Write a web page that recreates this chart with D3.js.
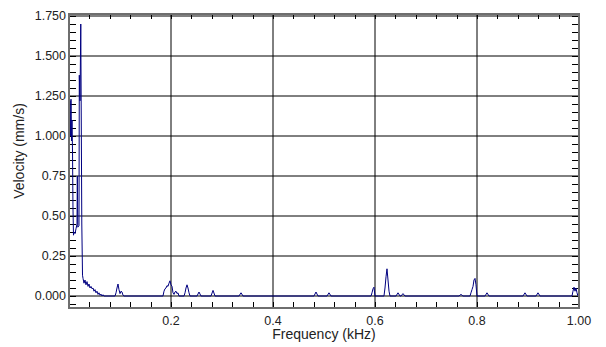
<!DOCTYPE html>
<html>
<head>
<meta charset="utf-8">
<script src="https://cdn.jsdelivr.net/npm/d3@7"></script>
<style>
  html, body { margin: 0; padding: 0; background: #ffffff; }
  svg { display: block; }
  text { font-family: "Liberation Sans", Arial, sans-serif; fill: #222; }
</style>
</head>
<body>
<svg id="chart" width="606" height="347"></svg>
<script>
// Vibration velocity spectrum (kHz vs mm/s)
const freqKHz = [
  0.0010, 0.0020, 0.0029, 0.0039, 0.0049, 0.0059, 0.0069, 0.0078, 0.0088, 0.0098,
  0.0118, 0.0137, 0.0157, 0.0163, 0.0173, 0.0196, 0.0202, 0.0216, 0.0231, 0.0251,
  0.0265, 0.0275, 0.0294, 0.0314, 0.0333, 0.0353, 0.0373, 0.0392, 0.0412, 0.0431,
  0.0451, 0.0471, 0.0490, 0.0510, 0.0529, 0.0549, 0.0569, 0.0588, 0.0608, 0.0627,
  0.0647, 0.0667, 0.0686,
  0.0902, 0.0922, 0.0941, 0.0961, 0.0980, 0.1000, 0.1020, 0.1039, 0.1059, 0.1078,
  0.1843, 0.1863, 0.1882, 0.1902, 0.1922, 0.1941, 0.1961, 0.1980, 0.2000, 0.2020,
  0.2039, 0.2059, 0.2078, 0.2098, 0.2118, 0.2137, 0.2157,
  0.2255, 0.2275, 0.2294, 0.2314, 0.2333, 0.2353, 0.2373,
  0.2510, 0.2549, 0.2588,
  0.2784, 0.2824, 0.2863,
  0.3333, 0.3373, 0.3412,
  0.4804, 0.4843, 0.4882,
  0.5059, 0.5098, 0.5137,
  0.5922, 0.5941, 0.5961, 0.5980, 0.6000,
  0.6176, 0.6196, 0.6216, 0.6235, 0.6255, 0.6275, 0.6294,
  0.6412, 0.6451, 0.6490, 0.6510, 0.6549, 0.6588,
  0.7647, 0.7686, 0.7725,
  0.7863, 0.7882, 0.7902, 0.7922, 0.7941, 0.7961, 0.7980, 0.8000,
  0.8157, 0.8196, 0.8235,
  0.8902, 0.8941, 0.8980,
  0.9157, 0.9196, 0.9235,
  0.9863, 0.9882, 0.9902, 0.9922, 0.9941, 0.9961, 0.9980, 1.0000
];

const velocity = [
  1.15, 1.22, 1.00, 1.23, 0.97, 1.10, 0.90, 0.55, 0.38, 0.40,
  0.39, 0.42, 0.45, 0.75, 0.43, 0.44, 1.38, 1.22, 1.70, 0.45,
  0.13, 0.11, 0.08, 0.10, 0.07, 0.09, 0.06, 0.075, 0.05, 0.06,
  0.045, 0.05, 0.03, 0.04, 0.02, 0.03, 0.01, 0.02, 0.005, 0.012,
  0.0, 0.008, 0.0,
  0.0, 0.02, 0.05, 0.075, 0.04, 0.015, 0.03, 0.025, 0.005, 0.0,
  0.0, 0.03, 0.045, 0.05, 0.065, 0.06, 0.08, 0.095, 0.07, 0.06,
  0.02, 0.01, 0.025, 0.03, 0.015, 0.02, 0.0,
  0.0, 0.02, 0.05, 0.07, 0.05, 0.02, 0.0,
  0.0, 0.025, 0.0,
  0.0, 0.035, 0.0,
  0.0, 0.02, 0.0,
  0.0, 0.025, 0.0,
  0.0, 0.02, 0.0,
  0.0, 0.02, 0.045, 0.055, 0.0,
  0.0, 0.05, 0.12, 0.17, 0.10, 0.03, 0.0,
  0.0, 0.02, 0.0, 0.0, 0.015, 0.0,
  0.0, 0.01, 0.0,
  0.0, 0.02, 0.04, 0.06, 0.10, 0.11, 0.07, 0.0,
  0.0, 0.02, 0.0,
  0.0, 0.02, 0.0,
  0.0, 0.02, 0.0,
  0.0, 0.03, 0.055, 0.03, 0.05, 0.02, 0.0, 0.0
];

const yTickValues = [0, 0.25, 0.5, 0.75, 1.0, 1.25, 1.5, 1.75];
const yTickLabels = ["0.000", "0.25", "0.50", "0.75", "1.000", "1.250", "1.500", "1.750"];
const xTickValues = [0.2, 0.4, 0.6, 0.8, 1.0];
const xTickLabels = ["0.2", "0.4", "0.6", "0.8", "1.00"];

const svg = d3.select("#chart");

const plotLeft = 69, plotRight = 579, plotTop = 14, plotBottom = 308;

const x = d3.scaleLinear().domain([0, 1]).range([plotLeft, plotRight]);
const y = d3.scaleLinear().domain([-0.075, 1.7625]).range([plotBottom, plotTop]);

// grid lines
const grid = svg.append("g");
grid.selectAll("line.h")
  .data(yTickValues)
  .join("line")
  .attr("class", "h")
  .attr("x1", plotLeft).attr("x2", plotRight)
  .attr("y1", d => y(d)).attr("y2", d => y(d))
  .attr("stroke", "#000").attr("stroke-width", 1);

grid.selectAll("line.v")
  .data(xTickValues.filter(d => d < 1))
  .join("line")
  .attr("class", "v")
  .attr("x1", d => x(d)).attr("x2", d => x(d))
  .attr("y1", plotTop).attr("y2", plotBottom)
  .attr("stroke", "#000").attr("stroke-width", 1);

// minor ticks on all four sides, pointing inward
const yMinor = d3.range(-0.05, 1.7501, 0.05);
const xMinor = d3.range(0.04, 0.9801, 0.04);
const ticks = svg.append("g").attr("stroke", "#000").attr("stroke-width", 1);
ticks.selectAll("line.yl").data(yMinor).join("line").attr("class", "yl")
  .attr("x1", plotLeft).attr("x2", plotLeft + 7)
  .attr("y1", d => Math.round(y(d)) + 0.5).attr("y2", d => Math.round(y(d)) + 0.5);
ticks.selectAll("line.yr").data(yMinor).join("line").attr("class", "yr")
  .attr("x1", plotRight - 7).attr("x2", plotRight)
  .attr("y1", d => Math.round(y(d)) + 0.5).attr("y2", d => Math.round(y(d)) + 0.5);
ticks.selectAll("line.xb").data(xMinor).join("line").attr("class", "xb")
  .attr("x1", d => Math.round(x(d)) + 0.5).attr("x2", d => Math.round(x(d)) + 0.5)
  .attr("y1", plotBottom - 6).attr("y2", plotBottom);
ticks.selectAll("line.xt").data(xMinor).join("line").attr("class", "xt")
  .attr("x1", d => Math.round(x(d)) + 0.5).attr("x2", d => Math.round(x(d)) + 0.5)
  .attr("y1", plotTop).attr("y2", plotTop + 5);

// spectrum trace
const points = freqKHz.map((f, i) => [f, velocity[i]]);
svg.append("path")
  .datum(points)
  .attr("fill", "none")
  .attr("stroke", "#000080")
  .attr("stroke-width", 1)
  .attr("d", d3.line().x(d => x(d[0])).y(d => y(d[1])));

// plot frame
svg.append("rect")
  .attr("x", plotLeft).attr("y", plotTop)
  .attr("width", plotRight - plotLeft).attr("height", plotBottom - plotTop)
  .attr("fill", "none")
  .attr("stroke", "#6e6e6e")
  .attr("stroke-width", 2);

// y tick labels
svg.append("g").selectAll("text")
  .data(yTickValues)
  .join("text")
  .attr("x", 66)
  .attr("y", d => y(d))
  .attr("dy", "0.35em")
  .attr("text-anchor", "end")
  .attr("font-size", 12.5)
  .text((d, i) => yTickLabels[i]);

// x tick labels
svg.append("g").selectAll("text")
  .data(xTickValues)
  .join("text")
  .attr("x", d => x(d))
  .attr("y", 325)
  .attr("text-anchor", "middle")
  .attr("font-size", 12.5)
  .text((d, i) => xTickLabels[i]);

// axis titles
svg.append("text")
  .attr("x", (plotLeft + plotRight) / 2)
  .attr("y", 339)
  .attr("text-anchor", "middle")
  .attr("font-size", 14)
  .text("Frequency (kHz)");

svg.append("text")
  .attr("transform", `translate(24, ${(plotTop + plotBottom) / 2 - 10}) rotate(-90)`)
  .attr("text-anchor", "middle")
  .attr("font-size", 14)
  .text("Velocity (mm/s)");
</script>
</body>
</html>
